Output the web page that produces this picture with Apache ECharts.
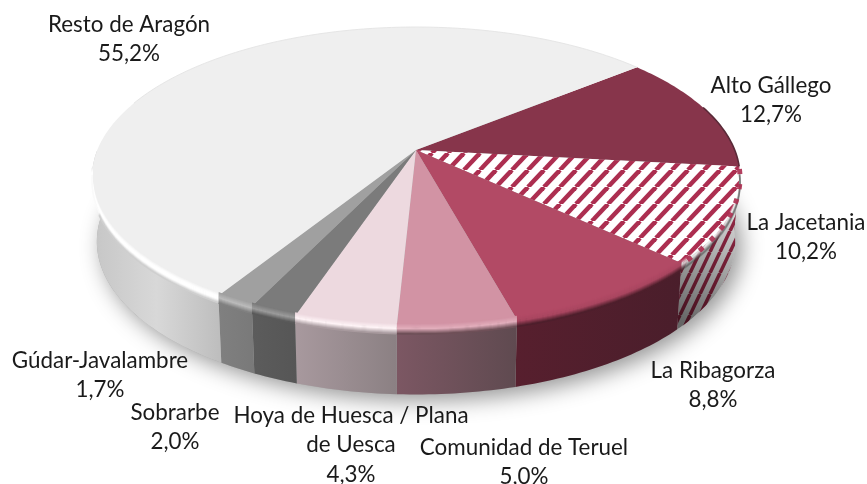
<!DOCTYPE html>
<html lang="es">
<head>
  <meta charset="UTF-8">
  <script src="https://cdn.jsdelivr.net/npm/echarts@6/dist/echarts.min.js"></script>
  <style>
    html, body { margin: 0; padding: 0; background: #fff; }
    #chart { width: 867px; height: 484px; }
  </style>
</head>
<body>
  <div id="chart"></div>

  <script type="text/javascript">
    // data, clockwise from the Alto Gallego slice
    const categories = [
      'Alto Gállego', 'La Jacetania', 'La Ribagorza', 'Comunidad de Teruel',
      'Hoya de Huesca / Plana\nde Uesca', 'Sobrarbe', 'Gúdar-Javalambre', 'Resto de Aragón'
    ];
    const shares = [12.7, 10.2, 8.8, 5.0, 4.3, 2.0, 1.7, 55.2];

    // styles
    const topColors = ['#87354b', null, '#b24a65', '#d293a4', '#edd9df', '#7b7b7b', '#a0a0a0', '#efefef'];
    const wallColors = [
      ['#5c2232', '#5c2232'], null, ['#571f2e', '#4a1e2b'], ['#7c5763', '#5f4a50'],
      ['#a8999e', '#8b8083'], ['#5c5c5c', '#565656'], ['#808080', '#797979'], ['#c6c6c6', '#d8d8d8', '#bdbdbd']
    ];
    const rimColors = [
      ['#87354b', '#6a2a3b', '#4a2a33'],
      ['rgba(255,255,255,0)', 'rgba(255,255,255,0.55)', 'rgba(60,60,60,0.35)'],
      ['#b24a65', '#a94660', '#4e1f2c'],
      ['#d293a4', '#e2aebc', '#6f5058'],
      ['#edd9df', '#fff4f7', '#a89a9e'],
      ['#7b7b7b', '#9c9c9c', '#5a5a5a'],
      ['#a0a0a0', '#bcbcbc', '#808080'],
      ['#efefef', '#ffffff', '#ffffff', '#cfcfcf']
    ];
    const stripeColor = '#ac2e50';

    // layout of the tilted disc (perspective circle) and of the labels
    const cx = 416, cy = 150, radiusX = 318.7, radiusY = 145.1, tilt = 0.18;
    const bottomShift = 64, bottomScaleX = 0.985, bottomScaleY = 1.02;
    const startAngle = 50.6;
    const labelAnchors = [
      [771, 71], [806, 208], [713, 356], [524, 433], [351, 401], [175, 398], [100, 346], [129, 10]
    ];
    const labelFont = '22.4px Lato, Carlito, sans-serif';
    const labelLineHeight = 29.5;

    function ringPoint(angle, isBottom, yOffset) {
      const rad = angle * Math.PI / 180;
      const u = Math.sin(rad), v = -Math.cos(rad);
      const w = 1 - tilt * v;
      const sx = isBottom ? bottomScaleX : 1, sy = isBottom ? bottomScaleY : 1;
      return [
        cx + radiusX * sx * u / w,
        cy + (isBottom ? bottomShift : 0) + radiusY * sy * v / w + (yOffset || 0)
      ];
    }

    function arcPoints(from, to, isBottom, yOffset) {
      const pts = [];
      const steps = Math.max(2, Math.ceil(Math.abs(to - from)));
      for (let i = 0; i <= steps; i++) {
        pts.push(ringPoint(from + (to - from) * i / steps, isBottom, yOffset));
      }
      return pts;
    }

    function makeStripes(w, h, lineWidth, back, stripe) {
      const c = document.createElement('canvas');
      c.width = w; c.height = h;
      const g = c.getContext('2d');
      g.fillStyle = back;
      g.fillRect(0, 0, w, h);
      g.strokeStyle = stripe;
      g.lineWidth = lineWidth;
      [-1, 0, 1].forEach(function (n) {
        g.beginPath();
        g.moveTo(n * w, h);
        g.lineTo(n * w + w, 0);
        g.stroke();
      });
      return { image: c, repeat: 'repeat' };
    }

    const topPattern = makeStripes(16, 17, 4.5, '#ffffff', stripeColor);
    const wallPattern = makeStripes(10, 21, 3.5, '#ffffff', stripeColor);

    function sliceAngles(index) {
      let before = 0;
      for (let i = 0; i < index; i++) before += shares[i];
      const total = shares.reduce(function (a, b) { return a + b; }, 0);
      return [startAngle + before / total * 360, startAngle + (before + shares[index]) / total * 360];
    }

    function wallFill(stops, pts) {
      const xs = pts.map(function (p) { return p[0]; });
      const colorStops = stops.map(function (c, i) {
        return { offset: i / (stops.length - 1), color: c };
      });
      return new echarts.graphic.LinearGradient(Math.min.apply(null, xs), 0, Math.max.apply(null, xs), 0, colorStops, true);
    }

    function renderSlice(params, api) {
      const index = params.dataIndex;
      const range = sliceAngles(index);
      const children = [];

      // soft shadow below the whole disc
      if (index === 0) {
        children.push({
          type: 'polygon', z2: 0,
          shape: { points: arcPoints(0, 360, true) },
          style: { fill: '#aaaaaa', shadowColor: 'rgba(0,0,0,0.42)', shadowBlur: 22, shadowOffsetX: 6, shadowOffsetY: 6 }
        });
      }

      // wall, only its front part can be seen
      const front = [Math.max(range[0], 90), Math.min(range[1], 270)];
      if (front[1] > front[0]) {
        const wallPts = arcPoints(front[0], front[1], false).concat(arcPoints(front[1], front[0], true));
        if (index === 1) {
          children.push({ type: 'polygon', z2: 1, shape: { points: wallPts }, style: { fill: wallPattern } });
          // darkens towards the lower left corner of the striped wall
          children.push({
            type: 'polygon', z2: 1, shape: { points: wallPts },
            style: {
              fill: new echarts.graphic.LinearGradient(680, 320, 742, 195, [
                { offset: 0, color: 'rgba(0,0,0,0.6)' },
                { offset: 1, color: 'rgba(0,0,0,0.08)' }
              ], true)
            }
          });
        } else {
          children.push({ type: 'polygon', z2: 1, shape: { points: wallPts }, style: { fill: wallFill(wallColors[index], wallPts) } });
        }
      }

      // top face
      children.push({
        type: 'polygon', z2: 2,
        shape: { points: [[cx, cy]].concat(arcPoints(range[0], range[1], false)) },
        style: { fill: topColors[index] === null ? topPattern : topColors[index] }
      });

      // bevel along the front edge
      const rimFrom = Math.max(range[0], 97), rimTo = Math.min(range[1], 262);
      if (rimTo > rimFrom) {
        const rimSteps = 10;
        for (let i = 0; i <= rimSteps; i++) {
          const t = i / rimSteps;
          // the grey end of the big slice's bevel stops short of the left edge
          const end = index === 7 && t > 0.7 ? 248 : rimTo;
          children.push({
            type: 'polyline', z2: 3,
            shape: { points: arcPoints(rimFrom, end, false, -3 + t * 10) },
            style: { fill: null, stroke: echarts.color.lerp(t, rimColors[index]), lineWidth: 1.6 }
          });
        }
      }
      // the stripes break up into dots on the bevel
      if (index === 1) {
        children.push({
          type: 'polyline', z2: 4,
          shape: { points: arcPoints(rimFrom, rimTo, false, 1) },
          style: { fill: null, stroke: stripeColor, lineWidth: 5, lineDash: [5, 10], opacity: 0.9 }
        });
      }
      // thin dark edge at the right and light grey edge along the back
      if (index === 0) {
        children.push({
          type: 'polyline', z2: 3,
          shape: { points: arcPoints(72, range[1], false) },
          style: { fill: null, stroke: '#5a2a38', lineWidth: 1.6 }
        });
      }
      if (index === 7) {
        children.push({
          type: 'polyline', z2: 3,
          shape: { points: arcPoints(290, range[1], false) },
          style: { fill: null, stroke: '#e6e6e6', lineWidth: 1 }
        });
      }

      // label
      const anchor = labelAnchors[index];
      children.push({
        type: 'text', z2: 5,
        style: {
          x: anchor[0], y: anchor[1],
          text: categories[index] + '\n' + api.value(0).toFixed(1).replace('.', ',') + '%',
          font: labelFont, fill: '#1a1a1a',
          lineHeight: labelLineHeight,
          textAlign: 'center', textVerticalAlign: 'top'
        }
      });
      return { type: 'group', children: children };
    }

    const chart = echarts.init(document.getElementById('chart'), null, { renderer: 'canvas' });
    chart.setOption({
      animation: false,
      backgroundColor: '#ffffff',
      series: [{
        type: 'custom',
        coordinateSystem: 'none',
        silent: true,
        renderItem: renderSlice,
        data: shares.map(function (v) { return [v]; })
      }]
    });
  </script>
</body>
</html>
